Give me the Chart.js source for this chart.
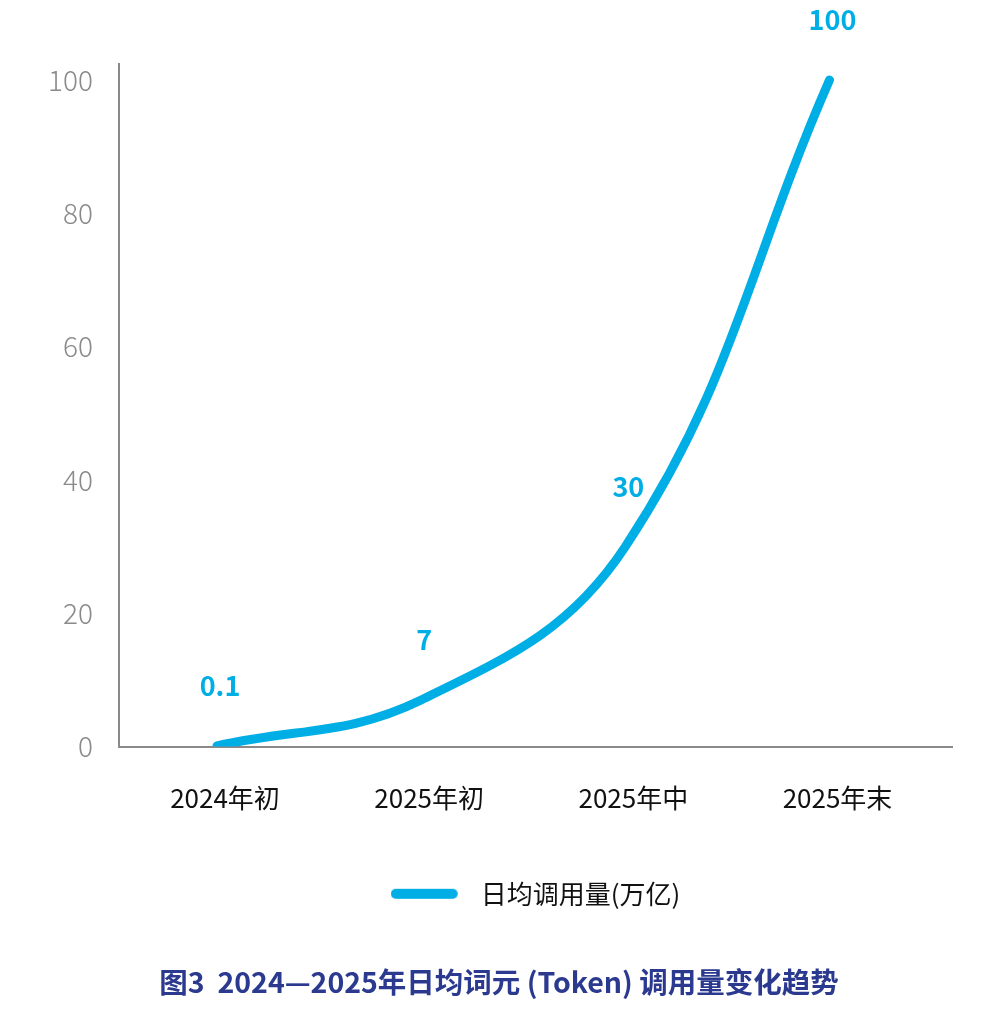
<!DOCTYPE html>
<html>
<head>
<meta charset="utf-8">
<script src="https://cdn.jsdelivr.net/npm/chart.js@4"></script>
<style>
  body { margin: 0; background: #fff; }
  #wrap { width: 989px; height: 1023px; position: relative; }
</style>
</head>
<body>
<div id="wrap"><canvas id="chart"></canvas></div>
<script>
// chart data
const categories = ['2024年初', '2025年初', '2025年中', '2025年末'];
const values = [0.1, 7, 30, 100];
const valueLabels = ['0.1', '7', '30', '100'];
const seriesName = '日均调用量(万亿)';
const yTicks = [0, 20, 40, 60, 80, 100];
const titleText = '图3  2024—2025年日均词元 (Token) 调用量变化趋势';

const LINE_COLOR = '#00aee6';
const FONT = '"Noto Sans CJK SC", "Noto Sans", sans-serif';

/**
 * legend marker: a rounded line with some empty room on its right
 */
function legendLine() {
    const c = document.createElement('canvas');
    c.width = 77;
    c.height = 12;
    const g = c.getContext('2d');
    g.strokeStyle = LINE_COLOR;
    g.lineWidth = 10;
    g.lineCap = 'round';
    g.beginPath();
    g.moveTo(5, 6);
    g.lineTo(62, 6);
    g.stroke();
    return c;
}

/**
 * draws the value labels above each point
 */
const valueLabelPlugin = {
    id: 'valueLabels',
    afterDatasetsDraw(chart) {
        const ctx = chart.ctx;
        const meta = chart.getDatasetMeta(0);
        ctx.save();
        ctx.fillStyle = LINE_COLOR;
        ctx.font = 'bold 27px ' + FONT;
        ctx.textAlign = 'center';
        ctx.textBaseline = 'middle';
        meta.data.forEach(function (pt, i) {
            ctx.fillText(valueLabels[i], pt.x + 3, pt.y - 60);
        });
        ctx.restore();
    }
};

new Chart(document.getElementById('chart'), {
    type: 'line',
    data: {
        datasets: [{
            label: seriesName,
            data: values.map((v, i) => ({ x: i, y: v })),
            borderColor: LINE_COLOR,
            backgroundColor: LINE_COLOR,
            borderWidth: 9,
            borderCapStyle: 'round',
            tension: 0.4,
            pointRadius: 0,
            pointHoverRadius: 0,
            pointStyle: legendLine()
        }]
    },
    options: {
        responsive: true,
        maintainAspectRatio: false,
        animation: false,
        layout: {
            padding: { top: 64, right: 37, left: 46, bottom: 14 }
        },
        scales: {
            x: {
                type: 'linear',
                min: -0.48,
                max: 3.6,
                afterBuildTicks(axis) {
                    axis.ticks = categories.map((c, i) => ({ value: i }));
                },
                afterFit(axis) {
                    axis.height += 7;
                },
                grid: { display: false, drawTicks: false },
                border: { display: true, color: '#8a8a8a', width: 2 },
                ticks: {
                    color: '#111',
                    padding: 36,
                    labelOffset: 8,
                    font: { family: FONT, size: 26 },
                    callback: (v) => categories[v]
                }
            },
            y: {
                min: 0,
                max: 102.4,
                afterBuildTicks(axis) {
                    axis.ticks = yTicks.map(v => ({ value: v }));
                },
                afterFit(axis) {
                    axis.width = 73;
                },
                grid: { display: false, drawTicks: false },
                border: { display: true, color: '#8a8a8a', width: 2 },
                ticks: {
                    color: '#8a8a8a',
                    padding: 26,
                    font: { family: FONT, size: 28, weight: '300' }
                }
            }
        },
        plugins: {
            tooltip: { enabled: false },
            legend: {
                position: 'bottom',
                fullSize: false,
                labels: {
                    color: '#111',
                    usePointStyle: true,
                    pointStyleWidth: 77,
                    boxHeight: 12,
                    padding: 24,
                    font: { family: FONT, size: 26 }
                }
            },
            title: {
                display: true,
                position: 'bottom',
                text: titleText,
                color: '#2b3a8f',
                padding: { top: 48, bottom: 10 },
                font: { family: FONT, size: 28.5, weight: 'bold' }
            }
        }
    },
    plugins: [valueLabelPlugin]
});
</script>
</body>
</html>
